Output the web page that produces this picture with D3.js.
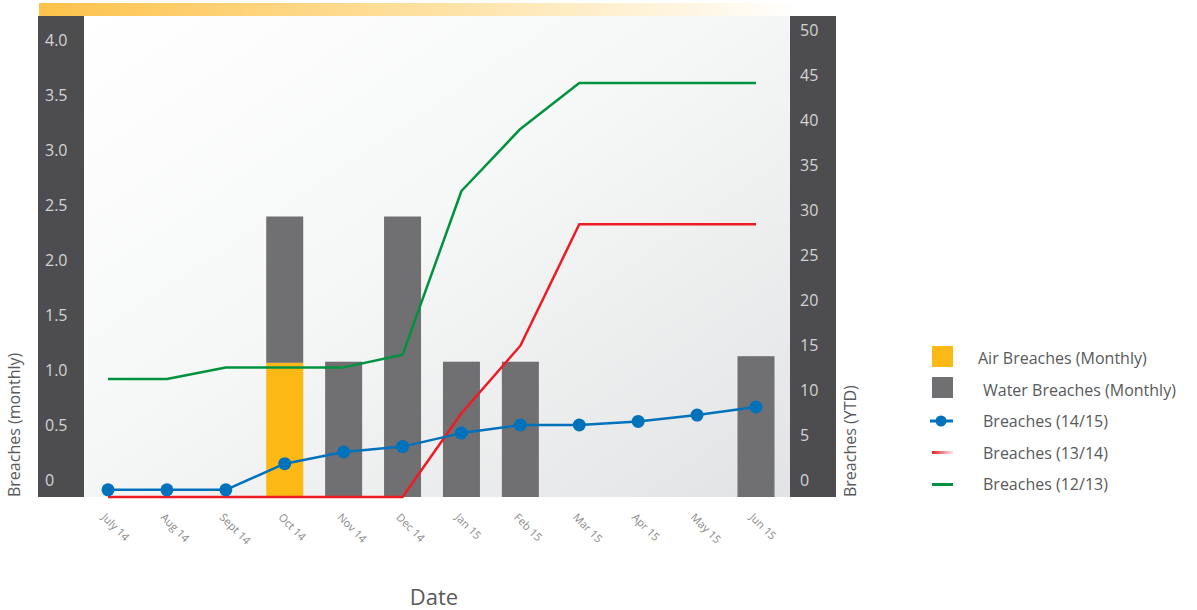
<!DOCTYPE html>
<html lang="en">
<head>
<meta charset="utf-8">
<title>Breaches chart</title>
<script src="https://cdnjs.cloudflare.com/ajax/libs/d3/7.8.5/d3.min.js"></script>
<style>
  body { margin: 0; background: #fff; }
  text { font-family: "Open Sans", sans-serif; }
</style>
</head>
<body>
<script>
// data
const months = ["July 14", "Aug 14", "Sept 14", "Oct 14", "Nov 14", "Dec 14",
                "Jan 15", "Feb 15", "Mar 15", "Apr 15", "May 15", "Jun 15"];
const airMonthly   = [0, 0, 0, 1.22, 0, 0, 0, 0, 0, 0, 0, 0];
const waterMonthly = [0, 0, 0, 1.33, 1.23, 2.55, 1.23, 1.23, 0, 0, 0, 1.28];
const ytd1415 = [0.8, 0.8, 0.8, 3.7, 5, 5.6, 7.1, 8, 8, 8.4, 9.1, 10];
const ytd1314 = [0, 0, 0, 0, 0, 0, 9.3, 16.8, 30.3, 30.3, 30.3, 30.3];
const ytd1213 = [13.1, 13.1, 14.4, 14.4, 14.4, 15.8, 34, 40.9, 46, 46, 46, 46];
const leftTicks  = [0, 0.5, 1, 1.5, 2, 2.5, 3, 3.5, 4];
const rightTicks = [0, 5, 10, 15, 20, 25, 30, 35, 40, 45, 50];

var w = 1197, h = 610;
var svg = d3.select("body").append("svg").attr("width", w).attr("height", h);

var plot = {left: 84, right: 790, top: 16, bottom: 497};

var defs = svg.append("defs");
var bg = defs.append("linearGradient").attr("id", "bg")
  .attr("x1", "0").attr("y1", "0").attr("x2", "1").attr("y2", "1");
bg.append("stop").attr("offset", "0%").attr("stop-color", "#ffffff");
bg.append("stop").attr("offset", "45%").attr("stop-color", "#f6f7f7");
bg.append("stop").attr("offset", "100%").attr("stop-color", "#e2e3e4");

var topg = defs.append("linearGradient").attr("id", "topbar");
topg.append("stop").attr("offset", "0%").attr("stop-color", "#fdc24a");
topg.append("stop").attr("offset", "55%").attr("stop-color", "#fee3a8");
topg.append("stop").attr("offset", "100%").attr("stop-color", "#ffffff");

var redg = defs.append("linearGradient").attr("id", "redfade");
redg.append("stop").attr("offset", "0%").attr("stop-color", "#ed1c24");
redg.append("stop").attr("offset", "100%").attr("stop-color", "#ed1c24").attr("stop-opacity", 0.1);

// backgrounds
svg.append("rect").attr("x", 39).attr("y", 3).attr("width", 760).attr("height", 13)
  .attr("fill", "url(#topbar)");
svg.append("rect").attr("x", plot.left).attr("y", plot.top)
  .attr("width", plot.right - plot.left).attr("height", plot.bottom - plot.top)
  .attr("fill", "url(#bg)");
svg.append("rect").attr("x", 38).attr("y", plot.top).attr("width", 46)
  .attr("height", plot.bottom - plot.top).attr("fill", "#4d4d4f");
svg.append("rect").attr("x", 790).attr("y", plot.top).attr("width", 46)
  .attr("height", plot.bottom - plot.top).attr("fill", "#4d4d4f");

// scales
let xScale = d3.scalePoint().domain(months).range([108, 756]);
let yLeft = d3.scaleLinear().domain([0, 4]).range([plot.bottom, 57]);
let yRight = d3.scaleLinear().domain([0, 50]).range([plot.bottom, 47]);

// axes (labels only, drawn inside the dark bands)
var leftAxis = svg.append("g").attr("transform", "translate(45,0)")
  .call(d3.axisRight(yLeft).tickValues(leftTicks).tickSize(0)
        .tickFormat(d => d === 0 ? "0" : d3.format(".1f")(d)));
leftAxis.select(".domain").remove();
leftAxis.selectAll("text").attr("x", 0).attr("dy", "-0.7em")
  .attr("fill", "#d4d4d4").style("font-size", "16px").style("font-family", "Open Sans, sans-serif");

var rightAxis = svg.append("g").attr("transform", "translate(800,0)")
  .call(d3.axisRight(yRight).tickValues(rightTicks).tickSize(0));
rightAxis.select(".domain").remove();
rightAxis.selectAll("text").attr("x", 0).attr("dy", "-0.75em")
  .attr("fill", "#d4d4d4").style("font-size", "16px").style("font-family", "Open Sans, sans-serif");

// bars
var barW = 37;
svg.selectAll(".air").data(months).enter().append("rect")
  .attr("class", "air")
  .attr("x", d => xScale(d) - barW / 2)
  .attr("width", barW)
  .attr("y", (d, i) => yLeft(airMonthly[i]))
  .attr("height", (d, i) => yLeft(0) - yLeft(airMonthly[i]))
  .attr("fill", "#fcb814");
svg.selectAll(".water").data(months).enter().append("rect")
  .attr("class", "water")
  .attr("x", d => xScale(d) - barW / 2)
  .attr("width", barW)
  .attr("y", (d, i) => yLeft(airMonthly[i] + waterMonthly[i]))
  .attr("height", (d, i) => yLeft(airMonthly[i]) - yLeft(airMonthly[i] + waterMonthly[i]))
  .attr("fill", "#707073");

// lines
var line = d3.line().x(d => xScale(d[0])).y(d => yRight(d[1]));
function draw(vals, color) {
  svg.append("path").datum(months.map((m, i) => [m, vals[i]]))
    .attr("d", line).attr("fill", "none").attr("stroke", color)
    .attr("stroke-width", 2.5).attr("stroke-linejoin", "round");
}
draw(ytd1213, "#00923f");
draw(ytd1314, "#ed1c24");
draw(ytd1415, "#0072bc");
svg.selectAll(".pt").data(months).enter().append("circle")
  .attr("cx", d => xScale(d))
  .attr("cy", (d, i) => yRight(ytd1415[i]))
  .attr("r", 6.5).attr("fill", "#0072bc");

// x labels
svg.append("g").selectAll("text").data(months).enter().append("text")
  .attr("transform", d => "translate(" + (xScale(d) - 7) + ",518) rotate(45)")
  .attr("fill", "#8a8a8a").style("font-size", "11px")
  .text(d => d);

// titles
svg.append("text").attr("x", 434).attr("y", 605).attr("text-anchor", "middle")
  .attr("fill", "#58595b").style("font-size", "22px").text("Date");
svg.append("text").attr("transform", "translate(20,497) rotate(-90)")
  .attr("fill", "#58595b").style("font-size", "16px").text("Breaches (monthly)");
svg.append("text").attr("transform", "translate(856,497) rotate(-90)")
  .attr("fill", "#58595b").style("font-size", "16px").text("Breaches (YTD)");

// legend
var legend = svg.append("g");
var legendItems = ["Air Breaches (Monthly)", "Water Breaches (Monthly)", "Breaches (14/15)", "Breaches (13/14)", "Breaches (12/13)"];
legend.append("rect").attr("x", 932).attr("y", 346).attr("width", 21).attr("height", 21).attr("fill", "#fcb814");
legend.append("rect").attr("x", 932).attr("y", 377).attr("width", 21).attr("height", 21).attr("fill", "#707073");
legend.append("line").attr("x1", 930).attr("x2", 953).attr("y1", 421).attr("y2", 421)
  .attr("stroke", "#0072bc").attr("stroke-width", 3);
legend.append("circle").attr("cx", 941).attr("cy", 421).attr("r", 5.5).attr("fill", "#0072bc");
legend.append("rect").attr("x", 932).attr("y", 451).attr("width", 21).attr("height", 3).attr("fill", "url(#redfade)");
legend.append("rect").attr("x", 932).attr("y", 483).attr("width", 21).attr("height", 3).attr("fill", "#00923f");
legend.selectAll("text").data(legendItems).enter().append("text")
  .attr("x", (d, i) => i === 0 ? 978 : 983)
  .attr("y", (d, i) => 364 + i * 31.5)
  .attr("fill", "#58595b").style("font-size", "16px")
  .text(d => d);
</script>
</body>
</html>
